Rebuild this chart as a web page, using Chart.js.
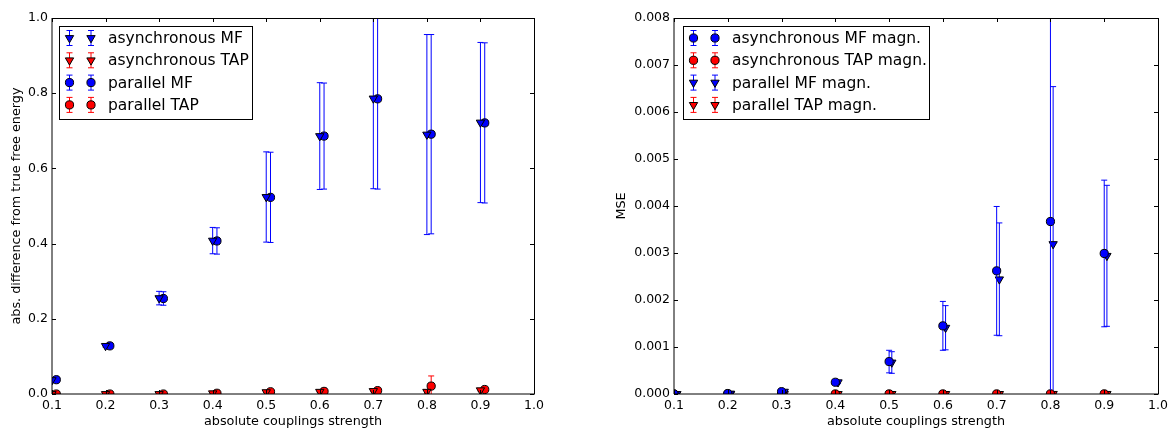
<!DOCTYPE html>
<html>
<head>
<meta charset="utf-8">
<script src="https://cdn.jsdelivr.net/npm/chart.js@4.4.0/dist/chart.umd.min.js"></script>
<style>
  html, body { margin: 0; padding: 0; background: #fff; }
  #wrap { position: relative; width: 1175px; height: 430px; }
  canvas { position: absolute; top: 0; }
</style>
</head>
<body>
<div id="wrap">
  <canvas id="left" width="580" height="430" style="left:0"></canvas>
  <canvas id="right" width="588" height="430" style="left:587px"></canvas>
</div>
<script>
const couplings = [0.1, 0.2, 0.3, 0.4, 0.5, 0.6, 0.7, 0.8, 0.9]

// left panel: abs. difference from true free energy
const asyncMF        = [0.037, 0.128, 0.255, 0.408, 0.524, 0.686, 0.786, 0.690, 0.722]
const asyncMFErr     = [0.003, 0.003, 0.018, 0.035, 0.120, 0.142, 0.240, 0.266, 0.213]
const asyncTAP       = [0.000, 0.000, 0.000, 0.002, 0.005, 0.006, 0.008, 0.006, 0.010]
const asyncTAPErr    = [0.000, 0.000, 0.000, 0.001, 0.001, 0.001, 0.002, 0.004, 0.002]
const parallelMF     = [0.038, 0.128, 0.254, 0.407, 0.523, 0.686, 0.785, 0.691, 0.721]
const parallelMFErr  = [0.003, 0.003, 0.018, 0.035, 0.120, 0.141, 0.240, 0.265, 0.213]
const parallelTAP    = [0.000, 0.000, 0.000, 0.002, 0.006, 0.007, 0.009, 0.021, 0.012]
const parallelTAPErr = [0.000, 0.000, 0.000, 0.001, 0.001, 0.001, 0.002, 0.027, 0.002]

// right panel: MSE of magnetisations
const asyncMFMagn        = [0.00000, 0.00001, 0.00005, 0.00025, 0.00069, 0.00145, 0.00262, 0.00367, 0.00299]
const asyncMFMagnErr     = [0.000002, 0.000004, 0.00002, 0.00003, 0.00024, 0.00052, 0.00137, 0.00460, 0.00156]
const asyncTAPMagn       = [0.000001, 0.000001, 0.000001, 0.000001, 0.000002, 0.000002, 0.000002, 0.000003, 0.000003]
const asyncTAPMagnErr    = [0, 0, 0, 0, 0.000001, 0.000001, 0.000001, 0.000002, 0.000002]
const parallelMFMagn     = [0.00000, 0.00001, 0.00005, 0.00025, 0.00067, 0.00141, 0.00244, 0.00319, 0.00294]
const parallelMFMagnErr  = [0.000002, 0.000004, 0.00002, 0.00003, 0.00023, 0.00047, 0.00120, 0.00335, 0.00150]
const parallelTAPMagn    = [0.000001, 0.000001, 0.000001, 0.000001, 0.000002, 0.000002, 0.000002, 0.000003, 0.000003]
const parallelTAPMagnErr = [0, 0, 0, 0, 0.000001, 0.000001, 0.000001, 0.000002, 0.000002]

const xTicks = [0.1, 0.2, 0.3, 0.4, 0.5, 0.6, 0.7, 0.8, 0.9, 1.0]
const leftYTicks = [0, 0.2, 0.4, 0.6, 0.8, 1.0]
const rightYTicks = [0, 0.001, 0.002, 0.003, 0.004, 0.005, 0.006, 0.007, 0.008]

const BLUE = "#0000ff"
const RED = "#ff0000"
const FONT = "'DejaVu Sans', sans-serif"

function series(label, values, errors, shift, color, shape) {
  const r = shape === "triangle" ? 4.8 : 4.1
  return {
    label: label,
    data: values.map((v, i) => ({ x: couplings[i] + shift, y: v })),
    errors: errors,
    errorColor: color,
    pointStyle: shape,
    rotation: shape === "triangle" ? 180 : 0,
    pointRadius: r,
    pointHoverRadius: r,
    backgroundColor: color,
    borderColor: "#000",
    borderWidth: 1,
    showLine: false,
    clip: 0
  }
}

function capBar(ctx, px, top, bot) {
  ctx.beginPath()
  ctx.moveTo(px, top); ctx.lineTo(px, bot)
  ctx.moveTo(px - 3, top); ctx.lineTo(px + 3, top)
  ctx.moveTo(px - 3, bot); ctx.lineTo(px + 3, bot)
  ctx.stroke()
}

// error bars drawn right before each dataset's markers, like matplotlib
const errorBars = {
  id: "errorBars",
  beforeDatasetDraw(chart, args) {
    const ds = chart.data.datasets[args.index]
    if (!ds.errors) return
    const { ctx, chartArea: a, scales } = chart
    ctx.save()
    ctx.beginPath()
    ctx.rect(a.left, a.top, a.right - a.left, a.bottom - a.top)
    ctx.clip()
    ctx.strokeStyle = ds.errorColor
    ctx.lineWidth = 1
    ds.data.forEach((p, i) => {
      const e = ds.errors[i]
      const px = scales.x.getPixelForValue(p.x)
      capBar(ctx, px, scales.y.getPixelForValue(p.y + e), scales.y.getPixelForValue(p.y - e))
    })
    ctx.restore()
  }
}

// frame with inward ticks on all four sides
const frame = {
  id: "frame",
  afterDatasetsDraw(chart, args, opts) {
    const { ctx, chartArea: a, scales } = chart
    const L = Math.round(a.left), R = Math.round(a.right)
    const T = Math.round(a.top), B = Math.round(a.bottom)
    ctx.save()
    ctx.lineWidth = 1
    ctx.strokeStyle = "#000"
    ctx.beginPath()
    opts.xTicks.forEach(v => {
      const px = Math.round(scales.x.getPixelForValue(v)) + 0.5
      ctx.moveTo(px, B); ctx.lineTo(px, B - 4)
      ctx.moveTo(px, T); ctx.lineTo(px, T + 4)
    })
    opts.yTicks.forEach(v => {
      const py = Math.round(scales.y.getPixelForValue(v)) + 0.5
      ctx.moveTo(L, py); ctx.lineTo(L + 4, py)
      ctx.moveTo(R, py); ctx.lineTo(R - 4, py)
    })
    ctx.stroke()
    // top and right spines crisp, left and bottom fall between pixels (softer grey look)
    ctx.beginPath()
    ctx.moveTo(L, T + 0.5); ctx.lineTo(R + 0.5, T + 0.5)
    ctx.moveTo(R + 0.5, T); ctx.lineTo(R + 0.5, B)
    ctx.stroke()
    ctx.beginPath()
    ctx.moveTo(L, T); ctx.lineTo(L, B)
    ctx.moveTo(L, B); ctx.lineTo(R + 1, B)
    ctx.stroke()
    ctx.restore()
  }
}

function marker(ctx, shape, r, x, y) {
  ctx.beginPath()
  if (shape === "triangle") {
    let rad = Math.PI
    ctx.moveTo(x + Math.sin(rad) * r, y - Math.cos(rad) * r)
    rad += 2 * Math.PI / 3
    ctx.lineTo(x + Math.sin(rad) * r, y - Math.cos(rad) * r)
    rad += 2 * Math.PI / 3
    ctx.lineTo(x + Math.sin(rad) * r, y - Math.cos(rad) * r)
    ctx.closePath()
  } else {
    ctx.arc(x, y, r, 0, Math.PI * 2)
  }
  ctx.fill()
  ctx.stroke()
}

// matplotlib style legend: two markers with error bars per row
const legendBox = {
  id: "legendBox",
  afterDraw(chart, args, opts) {
    const ctx = chart.ctx
    ctx.save()
    ctx.fillStyle = "#fff"
    ctx.fillRect(opts.x, opts.y, opts.w, opts.h)
    ctx.strokeStyle = "#000"
    ctx.lineWidth = 1
    ctx.strokeRect(opts.x + 0.5, opts.y + 0.5, opts.w, opts.h)
    ctx.font = "15.5px " + FONT
    ctx.textBaseline = "middle"
    chart.data.datasets.forEach((ds, i) => {
      const cy = opts.y + 12 + i * 22.3
      ;[10.5, 32].forEach(dx => {
        const px = opts.x + dx
        ctx.strokeStyle = ds.errorColor
        ctx.lineWidth = 1
        capBar(ctx, px, cy - 7.5, cy + 7.5)
        ctx.fillStyle = ds.backgroundColor
        ctx.strokeStyle = "#000"
        marker(ctx, ds.pointStyle, ds.pointRadius, px, cy)
      })
      ctx.fillStyle = "#000"
      ctx.fillText(ds.label, opts.x + 49, cy + 1)
    })
    ctx.restore()
  }
}

function makeChart(id, datasets, cfg) {
  return new Chart(document.getElementById(id), {
    type: "scatter",
    data: { datasets: datasets },
    plugins: [errorBars, frame, legendBox],
    options: {
      responsive: false,
      animation: false,
      events: [],
      layout: { padding: { top: 18, right: cfg.padRight, left: 0, bottom: 0 } },
      plugins: {
        legend: { display: false },
        tooltip: { enabled: false },
        frame: { xTicks: xTicks, yTicks: cfg.yTicks },
        legendBox: cfg.legend
      },
      scales: {
        x: {
          type: "linear",
          min: 0.1, max: 1.0,
          afterBuildTicks: s => { s.ticks = xTicks.map(v => ({ value: v })) },
          afterFit: s => { s.height = 36 },
          grid: { display: false, drawTicks: false },
          border: { display: false },
          ticks: { color: "#000", padding: 4, font: { family: FONT, size: 12.5 },
                   callback: v => v.toFixed(1) },
          title: { display: true, text: "absolute couplings strength", color: "#000",
                   font: { family: FONT, size: 12.8 }, padding: { top: 0, bottom: 1 } }
        },
        y: {
          type: "linear",
          min: cfg.yTicks[0], max: cfg.yTicks[cfg.yTicks.length - 1],
          afterBuildTicks: s => { s.ticks = cfg.yTicks.map(v => ({ value: v })) },
          afterFit: s => { s.width = cfg.yWidth },
          grid: { display: false, drawTicks: false },
          border: { display: false },
          ticks: { color: "#000", padding: 4, font: { family: FONT, size: 12.5 },
                   callback: v => v.toFixed(cfg.digits) },
          title: { display: true, text: cfg.yTitle, color: "#000",
                   font: { family: FONT, size: 12.8 }, padding: { top: cfg.yTitlePad, bottom: 0 } }
        }
      }
    }
  })
}

makeChart("left", [
  series("asynchronous MF", asyncMF, asyncMFErr, 0, BLUE, "triangle"),
  series("asynchronous TAP", asyncTAP, asyncTAPErr, 0, RED, "triangle"),
  series("parallel MF", parallelMF, parallelMFErr, 0.008, BLUE, "circle"),
  series("parallel TAP", parallelTAP, parallelTAPErr, 0.008, RED, "circle")
], {
  padRight: 46, yWidth: 52, yTicks: leftYTicks, digits: 1, yTitlePad: 8.5,
  yTitle: "abs. difference from true free energy",
  legend: { x: 59, y: 26, w: 193, h: 93 }
})

makeChart("right", [
  series("asynchronous MF magn.", asyncMFMagn, asyncMFMagnErr, 0, BLUE, "circle"),
  series("asynchronous TAP magn.", asyncTAPMagn, asyncTAPMagnErr, 0, RED, "circle"),
  series("parallel MF magn.", parallelMFMagn, parallelMFMagnErr, 0.005, BLUE, "triangle"),
  series("parallel TAP magn.", parallelTAPMagn, parallelTAPMagnErr, 0.005, RED, "triangle")
], {
  padRight: 17, yWidth: 87, yTicks: rightYTicks, digits: 3, yTitlePad: 27,
  yTitle: "MSE",
  legend: { x: 96, y: 26, w: 246, h: 93 }
})
</script>
</body>
</html>
